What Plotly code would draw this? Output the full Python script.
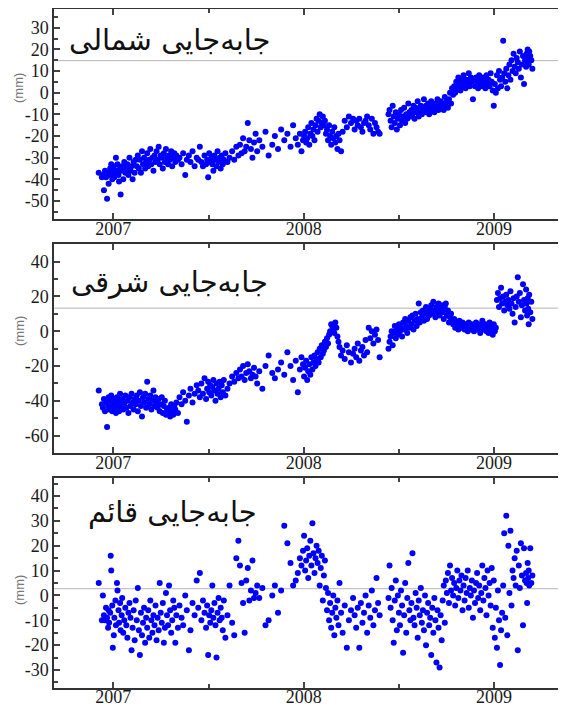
import plotly.graph_objects as go

# observation epochs: days relative to 2007-01-01 (shared by all three components)
days = [
    -28, -22, -20, -18, -16, -14, -12, -10, -9, -8,
    -6, -5, -4, -2, -1, 1, 2, 4, 5, 7,
    8, 10, 11, 13, 14, 16, 17, 19, 21, 23,
    25, 27, 29, 31, 33, 35, 37, 39, 41, 43,
    45, 47, 49, 51, 53, 55, 57, 59, 61, 63,
    65, 67, 69, 71, 73, 75, 77, 79, 81, 83,
    85, 87, 89, 91, 93, 95, 97, 99, 101, 103,
    105, 107, 109, 111, 113, 115, 117, 119, 121, 124,
    127, 131, 134, 138, 141, 145, 148, 152, 156, 160,
    163, 166, 169, 172, 175, 178, 180, 182, 184, 186,
    188, 190, 192, 194, 196, 198, 200, 202, 204, 206,
    208, 210, 212, 215, 219, 223, 228, 232, 236, 240,
    243, 246, 249, 252, 255, 258, 261, 264, 267, 270,
    273, 276, 280, 286, 292, 298, 305, 310, 316, 322,
    328, 334, 340, 345, 350, 354, 358, 361, 364, 366,
    368, 370, 372, 374, 376, 378, 380, 382, 384, 386,
    388, 390, 392, 394, 396, 398, 400, 402, 404, 406,
    408, 410, 412, 414, 416, 418, 420, 422, 424, 426,
    428, 430, 432, 434, 437, 440, 444, 448, 452, 456,
    460, 463, 466, 469, 472, 475, 478, 481, 484, 487,
    490, 493, 496, 499, 502, 505, 508, 511, 528, 530,
    532, 534, 536, 538, 540, 542, 544, 546, 548, 550,
    552, 554, 556, 558, 560, 562, 564, 566, 568, 570,
    572, 574, 576, 578, 580, 582, 584, 586, 588, 590,
    592, 594, 596, 598, 600, 602, 604, 606, 608, 610,
    612, 614, 616, 618, 620, 622, 624, 626, 628, 630,
    632, 634, 636, 638, 640, 642, 644, 646, 648, 650,
    652, 654, 656, 658, 660, 662, 664, 666, 668, 670,
    672, 674, 676, 678, 680, 682, 684, 686, 688, 690,
    692, 694, 696, 698, 700, 702, 704, 706, 708, 710,
    712, 714, 716, 718, 720, 722, 724, 726, 728, 730,
    732, 734, 736, 738, 740, 742, 744, 746, 748, 750,
    752, 754, 756, 758, 760, 762, 764, 766, 768, 770,
    772, 774, 776, 778, 780, 782, 784, 786, 788, 790,
    792, 793, 794, 795, 796, 797, 798, 800, 802, 804,
]

north = [
    -37, -39, -38, -45, -36, -39, -49, -38, -42, -37,
    -35, -38, -33, -40, -36, -34, -39, -37, -30, -36,
    -33, -38, -41, -35, -47, -36, -34, -40, -32, -37,
    -35, -33, -38, -30, -36, -34, -40, -32, -37, -31,
    -34, -29, -35, -31, -37, -27, -33, -30, -35, -32,
    -28, -34, -31, -26, -33, -30, -36, -29, -32, -27,
    -31, -25, -33, -29, -30, -35, -28, -32, -26, -30,
    -33, -29, -31, -27, -34, -30, -28, -32, -29, -31,
    -30, -33, -28, -38, -31, -29, -32, -27, -34, -30,
    -31, -25, -32, -34, -29, -33, -31, -39, -28, -32,
    -30, -33, -36, -29, -31, -34, -27, -32, -30, -35,
    -29, -33, -31, -28, -32, -30, -27, -31, -25, -29,
    -24, -28, -21, -27, -25, -14, -22, -26, -30, -23,
    -19, -27, -22, -25, -18, -29, -24, -20, -26, -17,
    -22, -19, -25, -15, -21, -24, -19, -27, -22, -20,
    -18, -23, -21, -16, -24, -19, -14, -20, -17, -22,
    -15, -12, -18, -13, -10, -16, -14, -11, -15, -13,
    -19, -17, -22, -15, -20, -24, -18, -21, -16, -23,
    -20, -26, -19, -22, -27, -18, -13, -16, -11, -14,
    -12, -17, -13, -15, -12, -16, -18, -14, -13, -11,
    -15, -17, -12, -19, -14, -16, -18, -19, -10, -8,
    -13, -16, -6, -11, -14, -9, -17, -12, -10, -15,
    -8, -13, -11, -7, -14, -10, -12, -5, -9, -11,
    -8, -10, -6, -12, -7, -9, -4, -11, -8, -6,
    -10, -7, -3, -9, -6, -8, -5, -10, -7, -4,
    -8, -6, -9, -5, -7, -3, -8, -6, -4, -7,
    -5, -8, -2, -6, -4, -7, -3, 0, -5, 2,
    -1, 3, 0, 5, 2, 7, 4, 1, 6, 3,
    8, 5, 2, 6, 4, 9, 3, 7, 5, -3,
    6, 3, 7, 5, 2, 8, 4, 6, 3, 7,
    5, 2, 8, 4, 6, 3, 9, 5, 1, -6,
    4, 0, 8, 2, 10, 6, 3, 7, 24, 9,
    5, 11, 2, 8, 13, 6, 15, 10, 18, 12,
    9, 16, 14, 11, 19, 7, 13, 17, 4, 15,
    12, 18, 14, 20, 16, 13, 19, 17, 15, 11,
]

east = [
    -34, -42, -44, -39, -46, -41, -55, -43, -38, -45,
    -40, -44, -37, -46, -42, -39, -45, -41, -47, -38,
    -43, -40, -46, -36, -44, -41, -39, -45, -42, -37,
    -44, -40, -47, -38, -43, -36, -41, -45, -39, -42,
    -37, -46, -40, -35, -43, -49, -38, -41, -36, -44,
    -29, -39, -42, -37, -45, -40, -34, -43, -38, -41,
    -44, -39, -46, -42, -38, -47, -43, -40, -48, -45,
    -47, -44, -49, -42, -46, -48, -43, -45, -41, -47,
    -38, -42, -35, -40, -52, -37, -33, -41, -36, -31,
    -34, -38, -30, -36, -27, -39, -33, -29, -35, -31,
    -37, -32, -28, -34, -40, -30, -36, -33, -29, -38,
    -31, -35, -28, -37, -33, -30, -26, -29, -24, -27,
    -22, -26, -20, -28, -24, -19, -23, -27, -25, -21,
    -26, -30, -23, -33, -20, -14, -24, -27, -22, -18,
    -25, -12, -20, -28, -17, -35, -22, -15, -19, -26,
    -21, -17, -28, -23, -19, -25, -15, -22, -18, -14,
    -20, -16, -12, -18, -10, -15, -8, -13, -11, -6,
    -9, -4, -7, -2, 0, 4, 3, 1, -1, 5,
    2, -3, -6, -9, -14, -11, -16, -8, -12, -18,
    -13, -10, -15, -7, -17, -11, -9, -14, -5, -12,
    2, -4, 0, -7, -2, 1, -5, -15, -10, -6,
    -3, 0, -8, -1, 3, -4, 1, -2, 4, 0,
    2, -3, 5, 1, 7, 3, -1, 6, 2, 8,
    4, 9, 1, 6, 10, 3, 7, 16, 5, 11,
    8, 12, 6, 10, 14, 7, 11, 9, 13, 15,
    10, 17, 12, 8, 14, 11, 16, 9, 13, 15,
    11, 7, 14, 16, 9, 12, 5, 8, 10, 6,
    4, 7, 2, 5, 3, 1, 6, 4, 2, 5,
    3, 1, 4, 2, 0, 5, 3, 1, 4, 2,
    0, 3, 5, 1, 4, 2, -1, 3, 6, 1,
    2, 4, 0, 3, -1, 5, 1, 2, -2, 4,
    0, 2, 18, 22, 14, 19, 25, 16, 20, 12,
    17, 21, 15, 18, 13, 23, 16, 10, 19, 5,
    14, 20, 31, 17, 22, 8, 15, 27, 18, 12,
    24, 16, 9, 19, 13, 4, 21, 11, 17, 7,
]

up = [
    5, -10, 0, -8, -10, -5, -9, -13, -6, -11,
    -7, 16, 10, -4, -21, -16, -9, -2, -12, 5,
    2, -6, -11, -3, -14, -8, -1, -15, -10, -5,
    -12, -17, -7, -3, -9, -22, -13, -6, -18, -2,
    -10, 3, -14, -24, -7, -16, -11, -5, -19, -9,
    -13, -6, -17, -2, -10, -15, -8, -12, -4, -18,
    -9, -14, 5, -7, -11, -3, -19, -13, 1, -8,
    -12, 4, -6, -15, -10, -2, -5, -19, -8, -13,
    -4, -9, -12, 0, -6, -22, -14, -3, -8, 6,
    -5, 9, -10, -2, -7, -13, -4, -24, -8, -11,
    -6, 4, -9, -3, -12, -25, -7, -1, -10, -5,
    -9, -14, -2, -17, -8, 4, -11, -16, 15, 22,
    12, 5, -3, -15, 6, 11, -2, 2, 14, -1,
    1, 4, -1, 3, -12, -10, 0, 4, -7, 2,
    28, 21, 13, 4, 6, 9, 15, 12, 18, 24,
    10, 14, 19, 7, 16, 22, 12, 29, 17, 9,
    15, 20, 13, 18, 4, 11, 16, -2, 8, 14,
    3, -6, 1, -10, -3, -13, -7, 0, -16, -5,
    -9, -2, -12, 5, -7, -15, -4, -21, -10, -6,
    -1, -8, -13, -5, -21, -3, -11, -7, 0, -15,
    -4, -9, 2, -12, -6, 7, -3, -8, -1, 12,
    -5, 3, -10, -19, -2, 6, -14, 0, -7, -12,
    2, -4, -23, -8, 5, -15, -1, 13, -6, -10,
    -3, 17, -9, -12, 1, -5, -17, -2, -8, 3,
    -11, -6, -14, 0, -20, -7, -3, -12, -9, -24,
    -5, -15, -1, -10, -27, -6, -13, -29, -8, -18,
    -2, 4, -11, 6, 1, 9, -3, 12, 2, 7,
    0, 5, -4, 3, 10, -1, 6, 2, 8, -6,
    4, -2, 7, 1, 10, -5, 3, 0, 6, -9,
    2, -3, 5, 9, -1, 4, -6, 1, 12, -2,
    7, 3, -8, 10, 0, 5, -4, 11, -13, 6,
    -17, -5, -21, 2, -10, -28, -14, -7, 4, 25,
    -9, 32, -16, 20, 1, 26, -4, 10, 7, 15,
    4, 18, -22, 12, 3, 21, 8, -12, 19, 6,
    9, 5, -3, 13, 7, 10, 4, 19, 5, 8,
]

titles = ["جابه‌جایی شمالی", "جابه‌جایی شرقی", "جابه‌جایی قائم"]
ref_levels = [14.8, 13.3, 2.7]
y_ranges = [[-58.3, 38.5], [-70, 50], [-37.1, 47.1]]
y_ticks = [[30, 20, 10, 0, -10, -20, -30, -40, -50],
           [40, 20, 0, -20, -40, -60],
           [40, 30, 20, 10, 0, -10, -20, -30]]
y_minor = [5, 10, 5]
x_ticks = [2007, 2008, 2009]
x_range = [2006.69, 2009.378]

years = [2007 + d / 365.25 for d in days]
series = [north, east, up]

# page body has an 8px default margin: figure sits at (8, 8)
OFF = 8
W, H = 566 - OFF, 705 - OFF
def px(x):
    return (x - OFF) / W
def py(y):
    return 1 - (y - OFF) / H

# panel pixel boxes in page coordinates (top, bottom)
boxes = [(9.3, 219.0), (244.3, 453.0), (478.3, 687.7)]
title_pos = [(273, 40), (270, 282), (259, 512)]
mm_pos = [(19, 88), (19, 331), (19, 590)]

fig = go.Figure()
axis_font = dict(family="Liberation Serif", size=18, color="#1a1a1a")

for i in range(3):
    xa = "x" if i == 0 else f"x{i+1}"
    ya = "y" if i == 0 else f"y{i+1}"
    fig.add_trace(go.Scatter(
        x=years, y=series[i], mode="markers", xaxis=xa, yaxis=ya,
        marker=dict(color="#0000ff", size=6, line=dict(width=0)),
        showlegend=False, hoverinfo="skip", cliponaxis=True,
    ))
    top, bot = boxes[i]
    xkey = "xaxis" if i == 0 else f"xaxis{i+1}"
    ykey = "yaxis" if i == 0 else f"yaxis{i+1}"
    fig.update_layout(**{
        xkey: dict(
            domain=[px(54.3), 1], range=x_range, anchor=ya, automargin=False,
            tickvals=x_ticks, ticktext=[str(v) for v in x_ticks],
            ticks="inside", ticklen=6, tickwidth=1.5, tickcolor="#444",
            minor=dict(tickvals=[2007.5, 2008.5], ticks="inside", ticklen=4, tickcolor="#444"),
            showline=True, linecolor="#333", linewidth=2, mirror="allticks",
            showgrid=False, zeroline=False, tickfont=axis_font,
            ticklabelstandoff=-8,
        ),
        ykey: dict(
            domain=[py(bot), py(top)], range=y_ranges[i], anchor=xa, automargin=False,
            tickvals=y_ticks[i], ticktext=[str(v) for v in y_ticks[i]],
            ticks="inside", ticklen=6, tickwidth=1.5, tickcolor="#444",
            minor=dict(dtick=y_minor[i], ticks="inside", ticklen=4, tickcolor="#444"),
            showline=True, linecolor="#333", linewidth=2, mirror=False,
            showgrid=False, zeroline=False, tickfont=axis_font,
        ),
    })
    fig.add_shape(type="line", xref=f"{xa} domain", yref=ya, x0=0, x1=1,
                  y0=ref_levels[i], y1=ref_levels[i],
                  line=dict(color="#b5b5b5", width=1), layer="below")
    tx, ty = title_pos[i]
    fig.add_annotation(text=titles[i], xref="paper", yref="paper",
                       x=px(tx), y=py(ty), xanchor="right", yanchor="middle",
                       showarrow=False,
                       font=dict(family="DejaVu Sans", size=29, color="#111"))
    mx, my = mm_pos[i]
    fig.add_annotation(text="(mm)", xref="paper", yref="paper",
                       x=px(mx), y=py(my), xanchor="center", yanchor="middle",
                       showarrow=False, textangle=-90,
                       font=dict(family="Liberation Sans", size=13, color="#777"))

fig.update_layout(
    width=W, height=H, margin=dict(l=0, r=0, t=0, b=0, autoexpand=False),
    paper_bgcolor="white", plot_bgcolor="white",
)
fig.write_html("out.html")
